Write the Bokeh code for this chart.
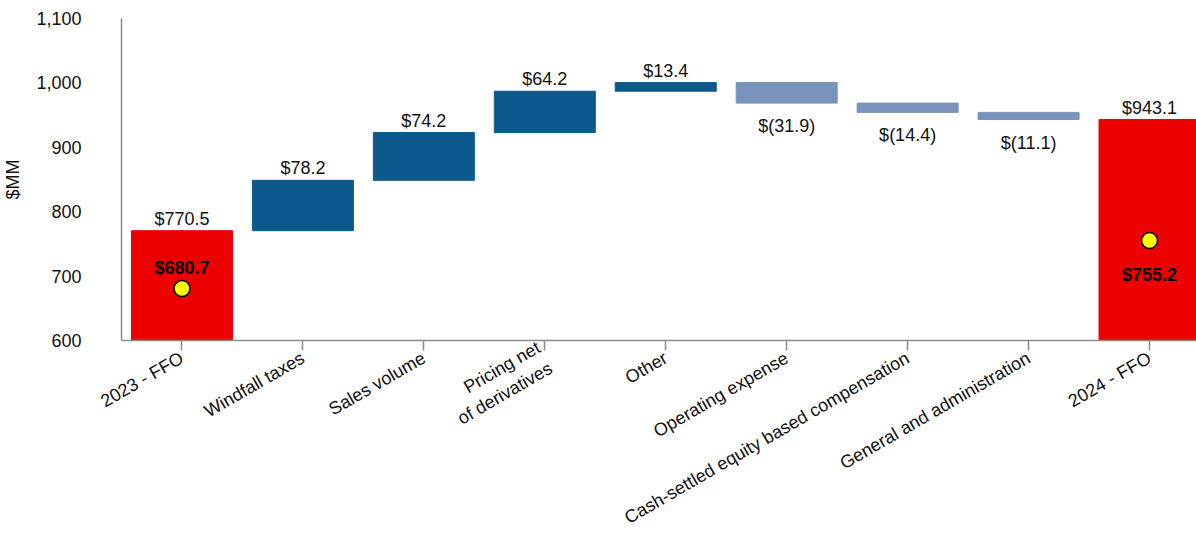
import math
import numpy as np
from bokeh.plotting import figure
from bokeh.models import FixedTicker, NumeralTickFormatter
from bokeh.core.properties import value
from bokeh.embed import file_html
from bokeh.resources import INLINE

categories = ["2023 - FFO", "Windfall taxes", "Sales volume", "Pricing net\nof derivatives",
              "Other", "Operating expense", "Cash-settled equity based compensation",
              "General and administration", "2024 - FFO"]
start_ffo = 770.5
changes = [78.2, 74.2, 64.2, 13.4, -31.9, -14.4, -11.1]
end_ffo = 943.1
marker_values = [680.7, 755.2]
marker_labels = ["$680.7", "$755.2"]
y_ticks = [600, 700, 800, 900, 1000, 1100]

FONT = "Liberation Sans"
NARROW = "'Liberation Sans Narrow', 'Arial Narrow', 'Liberation Sans', sans-serif"
FS = "18px"
DARK = "#0B5A8B"
LIGHT = "#7A93BC"
RED = "#EC0000"
GRAY = "#8c8c8c"

n = len(categories)
levels = start_ffo + np.cumsum(changes)
prev = np.concatenate([[start_ffo], levels[:-1]])
chg_x = list(range(1, 1 + len(changes)))
chg_top = np.maximum(prev, levels)
chg_bot = np.minimum(prev, levels)
chg_col = [DARK if c >= 0 else LIGHT for c in changes]

p = figure(frame_width=1077, frame_height=322, x_range=(-0.5, 8.405), y_range=(600, 1100),
           output_backend="svg", toolbar_location=None,
           min_border_left=111, min_border_right=0, min_border_top=18, min_border_bottom=0)
p.outline_line_color = None
p.xgrid.visible = False
p.ygrid.visible = False

# total bars
p.vbar(x=[0, n - 1], top=[start_ffo, end_ffo], bottom=0, width=0.835, color=RED)
# change bars
p.vbar(x=chg_x, top=chg_top, bottom=chg_bot, width=0.835, color=chg_col)

def fmt(v):
    return f"${v:.1f}" if v >= 0 else f"$({abs(v):.1f})"

pos_x = [0] + [x for x, c in zip(chg_x, changes) if c >= 0] + [n - 1]
pos_y = [start_ffo] + [t for t, c in zip(chg_top, changes) if c >= 0] + [end_ffo]
pos_t = [fmt(start_ffo)] + [fmt(c) for c in changes if c >= 0] + [fmt(end_ffo)]
neg_x = [x for x, c in zip(chg_x, changes) if c < 0]
neg_y = [b for b, c in zip(chg_bot, changes) if c < 0]
neg_t = [fmt(c) for c in changes if c < 0]

p.text(x=pos_x, y=pos_y, text=pos_t, text_align="center", text_baseline="alphabetic",
       y_offset=-12, text_font=value(FONT), text_font_size=FS, text_color="#111111")
p.text(x=neg_x, y=neg_y, text=neg_t, text_align="center", text_baseline="top",
       y_offset=13, text_font=value(FONT), text_font_size=FS, text_color="#111111")

# markers
p.scatter(x=[0, n - 1], y=marker_values, size=16, fill_color="#FFFF00",
          line_color="black", line_width=1.5)
p.text(x=[0], y=[marker_values[0]], text=[marker_labels[0]], text_align="center",
       text_baseline="alphabetic", y_offset=-21, text_font=value(FONT),
       text_font_size=FS, text_font_style="bold", text_color="black")
p.text(x=[n - 1], y=[marker_values[1]], text=[marker_labels[1]], text_align="center",
       text_baseline="top", y_offset=24, text_font=value(FONT),
       text_font_size=FS, text_font_style="bold", text_color="black")

# axes
xa = p.xaxis[0]
xa.ticker = FixedTicker(ticks=list(range(n)))
xa.major_label_overrides = {i: c for i, c in enumerate(categories)}
xa.major_label_orientation = math.pi / 6
xa.major_tick_out = 10
xa.major_tick_in = 0
xa.minor_tick_line_color = None
xa.axis_line_color = GRAY
xa.axis_line_width = 1.5
xa.major_tick_line_color = GRAY
xa.major_tick_line_width = 1.5
xa.major_label_text_font = FONT
xa.major_label_text_font_size = FS
xa.major_label_text_color = "#111111"
xa.major_label_standoff = 6

ya = p.yaxis[0]
ya.ticker = FixedTicker(ticks=y_ticks)
ya.formatter = NumeralTickFormatter(format="0,0")
ya.major_tick_out = 0
ya.major_tick_in = 0
ya.minor_tick_line_color = None
ya.axis_line_color = GRAY
ya.axis_line_width = 1.5
ya.major_label_standoff = 40
ya.major_label_text_font = NARROW
ya.major_label_text_font_size = FS
ya.major_label_text_color = "#111111"
ya.axis_label = "$MM"
ya.axis_label_text_font = FONT
ya.axis_label_text_font_size = FS
ya.axis_label_text_font_style = "normal"
ya.axis_label_text_color = "#111111"
ya.axis_label_standoff = 10

open("out.html", "w").write(file_html(p, INLINE))
